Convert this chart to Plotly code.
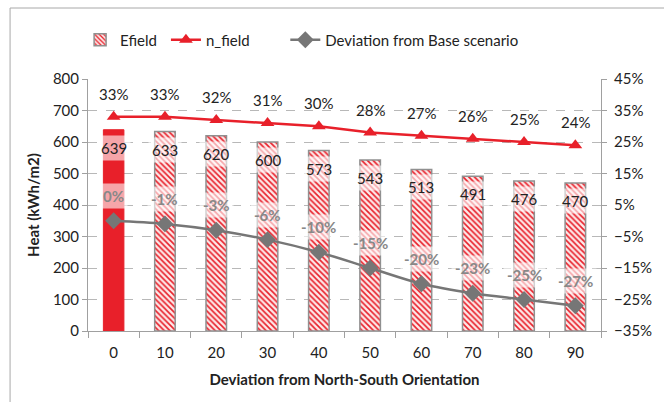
import plotly.graph_objects as go

# Orientation steps (degrees from North-South)
angles = ["0", "10", "20", "30", "40", "50", "60", "70", "80", "90"]
# Field heat yield (kWh/m2)
efield = [639, 633, 620, 600, 573, 543, 513, 491, 476, 470]
# Field efficiency (%)
n_field = [33, 33, 32, 31, 30, 28, 27, 26, 25, 24]
# Deviation of Efield from base scenario (%)
deviation = [0, -1, -3, -6, -10, -15, -20, -23, -25, -27]

RED = "#E8202A"
GREY = "#767676"
FONT = "Lato"

L, R, T, B = 88, 56, 79, 71
W, H = 664, 402
PW, PH = W - L - R, H - T - B

fig = go.Figure()

# Base scenario bar (solid)
fig.add_trace(go.Bar(
    x=angles[:1], y=efield[:1], width=0.4, showlegend=False,
    marker=dict(color=RED, line=dict(color=RED, width=1)),
    hoverinfo="skip",
))
# Remaining orientations (hatched)
fig.add_trace(go.Bar(
    x=angles[1:], y=efield[1:], width=0.4, name="Efield", legend="legend",
    marker=dict(
        color="white",
        line=dict(color="#909090", width=1.5),
        pattern=dict(shape="\\", fgcolor=RED, bgcolor="#fde8e8",
                     size=4, solidity=0.4, fillmode="replace"),
    ),
))
fig.add_trace(go.Scatter(
    x=angles, y=n_field, name="n_field", yaxis="y2", mode="lines+markers",
    legend="legend2",
    line=dict(color=RED, width=2.5),
    marker=dict(symbol="triangle-up", size=12, color=RED),
))
fig.add_trace(go.Scatter(
    x=angles, y=deviation, name="Deviation from Base scenario", yaxis="y2",
    legend="legend3",
    mode="lines+markers", line=dict(color=GREY, width=2.5, shape="spline"),
    marker=dict(symbol="diamond", size=13, color=GREY),
))

# Data labels (category index positions on the x axis)
ann = []
for i, v in enumerate(efield):
    ann.append(dict(x=i, y=v, xref="x", yref="y", text=str(v), showarrow=False,
                    yshift=-18, font=dict(family=FONT, size=15, color="#222"),
                    bgcolor="rgba(255,255,255,0.6)", borderpad=3))
for i, v in enumerate(n_field):
    ann.append(dict(x=i, y=v, xref="x", yref="y2", text=f"{v}%", showarrow=False,
                    yshift=23, font=dict(family=FONT, size=15, color="#222")))
for i, v in enumerate(deviation):
    ann.append(dict(x=i, y=v, xref="x", yref="y2", text=f"<b>{v}%</b>",
                    showarrow=False, yshift=25,
                    font=dict(family=FONT, size=15, color="#888888"),
                    bgcolor="rgba(255,255,255,0.6)", borderpad=3))


def legend_at(px):
    return dict(orientation="h", x=(px - L) / PW, xanchor="left",
                y=1 + (T - 40) / PH, yanchor="middle",
                font=dict(family=FONT, size=15, color="#222"),
                itemwidth=30, bgcolor="rgba(0,0,0,0)")


fig.update_layout(
    width=W, height=H,
    margin=dict(l=L, r=R, t=T, b=B),
    paper_bgcolor="white", plot_bgcolor="white",
    font=dict(family=FONT, size=15, color="#222"),
    barmode="overlay",
    showlegend=True,
    legend=legend_at(80),
    legend2=legend_at(167),
    legend3=legend_at(288),
    xaxis=dict(
        type="category", categoryorder="array", categoryarray=angles,
        range=[-0.5, len(angles) - 0.5],
        tickson="boundaries", ticks="outside", ticklen=6,
        tickcolor="#a0a0a0", showline=True, linecolor="#a0a0a0", linewidth=1,
        showgrid=False, tickfont=dict(size=15), ticklabelstandoff=8,
        title=dict(text="<b>Deviation from North-South Orientation</b>",
                   font=dict(size=15), standoff=14),
    ),
    yaxis=dict(
        range=[0, 800], dtick=100, ticks="outside", ticklen=5,
        tickcolor="#a0a0a0", showline=True, linecolor="#a0a0a0",
        gridcolor="#b8b8b8", griddash="dash", gridwidth=1,
        zeroline=False, tickfont=dict(size=15),
        title=dict(text="<b>Heat (kWh/m2)</b>", font=dict(size=15), standoff=9),
    ),
    yaxis2=dict(
        range=[-35, 45], tick0=5, dtick=10, overlaying="y", side="right",
        ticksuffix="%", ticks="outside", ticklen=5, tickcolor="#a0a0a0",
        showline=True, linecolor="#a0a0a0", showgrid=False, zeroline=False,
        tickfont=dict(size=15), ticklabelstandoff=4,
    ),
    annotations=ann,
    shapes=[dict(type="rect", xref="paper", yref="paper",
                 x0=(9 - L) / PW, x1=(W + 20 - L) / PW,
                 y0=-(B + 20) / PH, y1=1 + (T - 8) / PH,
                 line=dict(color="#a8a8a8", width=1), layer="below")],
)

fig.write_html("out.html")
